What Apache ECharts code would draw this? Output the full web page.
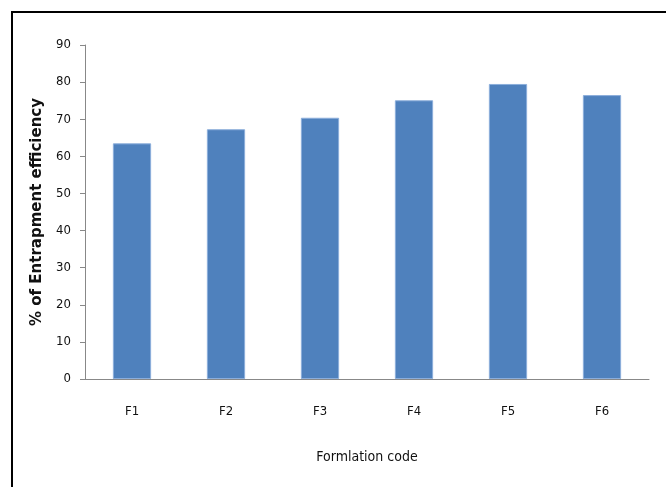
<!DOCTYPE html>
<html>
<head>
<meta charset="utf-8">
<style>
  html, body { margin: 0; padding: 0; background: #fff; }
  #chart { width: 666px; height: 487px; }
</style>
<script src="https://cdn.jsdelivr.net/npm/echarts@6/dist/echarts.min.js"></script>
</head>
<body>
<div id="chart"></div>
<script>
// Formulation codes and their entrapment efficiency (%)
const categories = ['F1', 'F2', 'F3', 'F4', 'F5', 'F6'];
const efficiency = [63.5, 67.3, 70.4, 75.1, 79.5, 76.5];
const yTicks = { min: 0, max: 90, step: 10 };

const chart = echarts.init(document.getElementById('chart'), null, { renderer: 'canvas' });

const labelFont = "'DejaVu Sans Condensed', 'Liberation Sans', sans-serif";

chart.setOption({
  animation: false,
  backgroundColor: '#ffffff',
  grid: { left: 85, right: 17, top: 45, bottom: 108, containLabel: false },
  graphic: [
    // frame lines along the top and left edges
    { type: 'line', shape: { x1: 11, y1: 12, x2: 666, y2: 12 }, style: { stroke: '#000', lineWidth: 2 } },
    { type: 'line', shape: { x1: 12, y1: 11, x2: 12, y2: 487 }, style: { stroke: '#000', lineWidth: 2 } }
  ],
  xAxis: {
    type: 'category',
    data: categories,
    name: 'Formlation code',
    nameLocation: 'middle',
    nameGap: 71,
    nameTextStyle: { fontFamily: labelFont, fontSize: 14, color: '#111' },
    axisLine: { lineStyle: { color: '#888', width: 1 } },
    axisTick: { show: false },
    axisLabel: { margin: 26, fontFamily: labelFont, fontSize: 13, color: '#111' }
  },
  yAxis: {
    type: 'value',
    min: yTicks.min,
    max: yTicks.max,
    interval: yTicks.step,
    name: '% of Entrapment efficiency',
    nameLocation: 'middle',
    nameRotate: 90,
    nameGap: 40,
    nameTextStyle: { fontFamily: "'DejaVu Sans', sans-serif", fontWeight: 'bold', fontSize: 15, color: '#111' },
    axisLine: { show: true, lineStyle: { color: '#888', width: 1 } },
    axisTick: { show: true, inside: false, length: 5, lineStyle: { color: '#888' } },
    splitLine: { show: false },
    axisLabel: { margin: 14, fontFamily: labelFont, fontSize: 13, color: '#111' }
  },
  series: [{
    type: 'bar',
    data: efficiency,
    barWidth: '40.7%',
    itemStyle: { color: '#4f81bd', borderColor: '#8caedb', borderWidth: 1 }
  }]
});
</script>
</body>
</html>
